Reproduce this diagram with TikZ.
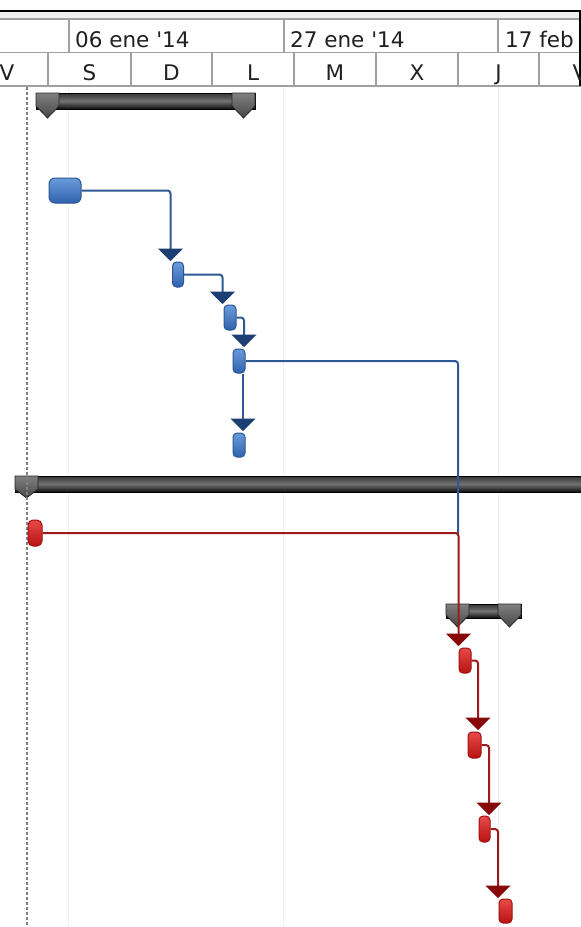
\documentclass[tikz,border=0pt]{standalone}
\usepackage{fontspec}
\setmainfont{DejaVu Sans}
\usetikzlibrary{arrows.meta}
\definecolor{bluetop}{HTML}{6A9BDA}
\definecolor{bluebot}{HTML}{2F63AE}
\definecolor{blueborder}{HTML}{2A5694}
\definecolor{blueline}{HTML}{2E5A94}
\definecolor{bluearrow}{HTML}{1D3E72}
\definecolor{redtop}{HTML}{E84A4A}
\definecolor{redbot}{HTML}{B81212}
\definecolor{redborder}{HTML}{A01010}
\definecolor{redline}{HTML}{9E1A1A}
\definecolor{redarrow}{HTML}{860808}
\definecolor{hdrline}{HTML}{A0A0A0}
\definecolor{txt}{HTML}{202020}
\newcommand{\mysumbar}[7]{%
  % #1 x0, #2 x1, #3 top, #4 bottom, #5 apex y, #6 cap width, #7 draw right cap (1/0)
  \path[barbody] (#1,#3) rectangle (#2,#4);
  \path[barcap] (#1,#3) -- ({#1+#6},#3) -- ({#1+#6},#4-3) -- ({#1+#6/2},#5) -- (#1,#4-3) -- cycle;
  \ifnum#7=1
  \path[barcap] ({#2-#6},#3) -- (#2,#3) -- (#2,#4-3) -- ({#2-#6/2},#5) -- ({#2-#6},#4-3) -- cycle;
  \fi
}
\begin{document}
\begin{tikzpicture}[x=1pt,y=-1pt,
  hdr/.style={font=\fontsize{21.5}{24}\selectfont, text=txt, inner sep=0pt},
  daylbl/.style={font=\fontsize{21.5}{24}\selectfont, text=txt, inner sep=0pt, anchor=base},
  btask/.style={draw=blueborder, line width=1pt, top color=bluetop, bottom color=bluebot, rounded corners=4pt, inner sep=0pt},
  rtask/.style={draw=redborder, line width=1pt, top color=redtop, bottom color=redbot, rounded corners=4pt, inner sep=0pt},
  blink/.style={draw=blueline, line width=2pt, rounded corners=3pt},
  rlink/.style={draw=redline, line width=2pt, rounded corners=3pt},
  barrow/.style={-{Triangle[width=25pt,length=12.5pt,fill=bluearrow,color=bluearrow]}},
  rarrow/.style={-{Triangle[width=25pt,length=12.5pt,fill=redarrow,color=redarrow]}},
  barbody/.style={draw=black, line width=0.8pt, top color=black!80, bottom color=black!95, middle color=black!55},
  barcap/.style={draw=black!85, line width=0.8pt, top color=black!50, bottom color=black!72},
]
\useasboundingbox (0,0) rectangle (581,927);
\clip (0,0) rectangle (581,927);
\fill[white] (0,0) rectangle (581,927);

% faint week gridlines
\foreach \gx in {68,283,498} \draw[black!6, line width=1pt] (\gx,86) -- (\gx,927);

% header
\fill[black!6] (0,12) rectangle (581,19);
\draw[black, line width=1.5pt] (0,11) -- (581,11);
\draw[hdrline, line width=1.5pt] (0,19) -- (581,19);
\draw[hdrline, line width=1.5pt] (0,52.5) -- (581,52.5);
\draw[hdrline, line width=1.5pt] (0,86) -- (581,86);
\foreach \gx in {69,284,498} \draw[hdrline, line width=1.5pt] (\gx,19) -- (\gx,52.5);
\foreach \gx in {48,131,212,294,376,458,539} \draw[hdrline, line width=1.5pt] (\gx,52.5) -- (\gx,86);
\draw[black, line width=1.5pt] (580,11) -- (580,86);

\node[hdr, anchor=base west] (w1) at (75,47) {06 ene \textquotesingle14};
\node[hdr, anchor=base west] (w2) at (290,47) {27 ene \textquotesingle14};
\node[hdr, anchor=base west] (w3) at (505,47) {17 feb};
\node[daylbl] (d0) at (7,80) {V};
\node[daylbl] (d1) at (89.5,80) {S};
\node[daylbl] (d2) at (171.5,80) {D};
\node[daylbl] (d3) at (253,80) {L};
\node[daylbl] (d4) at (335,80) {M};
\node[daylbl] (d5) at (417,80) {X};
\node[daylbl] (d6) at (498.5,80) {J};
\node[daylbl] (d7) at (580,80) {V};

% summary bars
\mysumbar{36}{255}{93}{109}{118}{23}{1}
\mysumbar{15}{600}{476}{492}{498}{23}{0}
\mysumbar{446}{521}{604}{618}{627}{23}{1}

% dashed status line
\draw[black!50, line width=1.2pt, dash pattern=on 3pt off 2pt] (27,87) -- (27,927);

% tasks
\node[btask, minimum width=32pt, minimum height=25pt, rounded corners=6pt] (t1) at (65,190.5) {};
\node[btask, minimum width=11pt, minimum height=25pt] (t2) at (178,274.5) {};
\node[btask, minimum width=12pt, minimum height=25pt] (t3) at (230,317.5) {};
\node[btask, minimum width=12pt, minimum height=24pt] (t4) at (239,361) {};
\node[btask, minimum width=12pt, minimum height=24pt] (t5) at (239,445) {};
\node[rtask, minimum width=14pt, minimum height=26pt, rounded corners=5pt] (r1) at (35,533) {};
\node[rtask, minimum width=12pt, minimum height=25pt] (r2) at (465,660.5) {};
\node[rtask, minimum width=13pt, minimum height=26pt] (r3) at (474.5,745) {};
\node[rtask, minimum width=11pt, minimum height=26pt] (r4) at (484.5,829) {};
\node[rtask, minimum width=13pt, minimum height=24pt] (r5) at (505.5,911) {};

% connector ends
\coordinate (a2) at (170.5,261);
\coordinate (a3) at (222.5,304);
\coordinate (a4) at (244,347);
\coordinate (a5) at (243,431);
\coordinate (j) at (458,534);
\coordinate (ar2) at (458.5,646);
\coordinate (ar3) at (478,730);
\coordinate (ar4) at (489,815);
\coordinate (ar5) at (498,898);

% blue links
\draw[blink, barrow] (t1.east) -| (a2);
\draw[blink, barrow] (t2.east) -| (a3);
\draw[blink, barrow] (t3.east) -| (a4);
\draw[blink, barrow] (t4.south -| a5) -- (a5);
\draw[blink] (t4.east) -| (j);

% red links
\draw[rlink, rarrow] (r1.east) -| (ar2);
\draw[rlink, rarrow] (r2.east) -| (ar3);
\draw[rlink, rarrow] (r3.east) -| (ar4);
\draw[rlink, rarrow] (r4.east) -| (ar5);
\end{tikzpicture}
\end{document}
